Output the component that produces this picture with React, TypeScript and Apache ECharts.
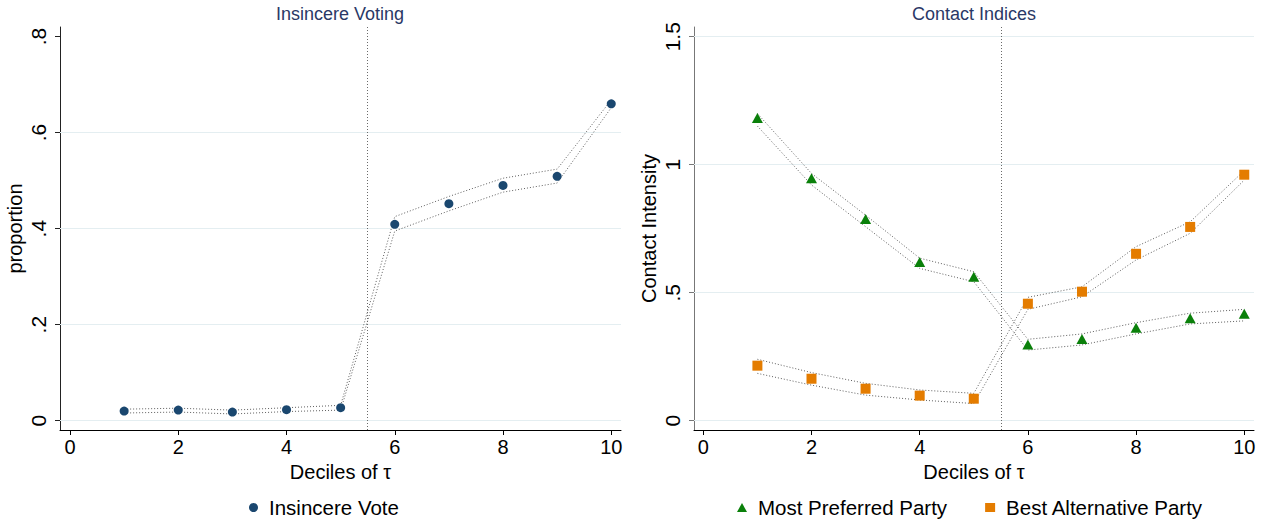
import React, { useEffect, useRef } from "react";
import * as echarts from "echarts";

// Deciles of tau on the horizontal axis
const deciles = [1, 2, 3, 4, 5, 6, 7, 8, 9, 10];

// Insincere voting: share of insincere votes with confidence band
const insincere = [0.02, 0.022, 0.018, 0.023, 0.027, 0.409, 0.452, 0.49, 0.509, 0.66];
const insincereHi = [0.024, 0.026, 0.022, 0.027, 0.032, 0.425, 0.467, 0.505, 0.524, 0.668];
const insincereLo = [0.016, 0.018, 0.014, 0.019, 0.022, 0.395, 0.437, 0.476, 0.495, 0.652];

// Contact indices: most preferred party and best alternative party
const preferred = [1.183, 0.947, 0.788, 0.62, 0.5625, 0.298, 0.319, 0.363, 0.4, 0.418];
const preferredHi = [1.2, 0.966, 0.803, 0.635, 0.582, 0.318, 0.339, 0.383, 0.42, 0.435];
const preferredLo = [1.151, 0.921, 0.758, 0.595, 0.543, 0.276, 0.296, 0.339, 0.378, 0.39];

const alternative = [0.215, 0.164, 0.125, 0.098, 0.086, 0.457, 0.504, 0.652, 0.757, 0.961];
const alternativeHi = [0.24, 0.188, 0.146, 0.12, 0.107, 0.482, 0.523, 0.68, 0.777, 0.977];
const alternativeLo = [0.185, 0.139, 0.1, 0.081, 0.067, 0.435, 0.484, 0.628, 0.732, 0.94];

// Tick labels
const xTicks = [0, 2, 4, 6, 8, 10];
const yTicksLeft = [0, 0.2, 0.4, 0.6, 0.8];
const yGridLeft = [0, 0.2, 0.4, 0.6];
const yTicksRight = [0, 0.5, 1, 1.5];
const yGridRight = [0, 0.5, 1, 1.5];

const cutoff = 5.5;

const FONT = "'Liberation Sans', Arial, Helvetica, sans-serif";
const BAND_COLOR = "#5e5e5e";
const GRID_COLOR = "#e4eef1";

const pairs = (vals: number[]) => deciles.map((d, i) => [d, vals[i]]);

const fmtTick = (v: number) => (v === 0 ? "0" : String(v).replace(/^0\./, "."));

function band(vals: number[], axis: number, extra: any = {}) {
  return {
    type: "line",
    xAxisIndex: axis,
    yAxisIndex: axis,
    data: pairs(vals),
    symbol: "none",
    silent: true,
    z: 2,
    lineStyle: { color: BAND_COLOR, width: 1, type: [1, 2] },
    ...extra,
  };
}

function gridLines(values: number[]) {
  return {
    silent: true,
    symbol: ["none", "none"],
    label: { show: false },
    z: 1,
    lineStyle: { color: GRID_COLOR, width: 1, type: "solid" },
    data: values.map((v) => ({ yAxis: v })),
  };
}

const cutLine = {
  silent: true,
  symbol: ["none", "none"],
  label: { show: false },
  z: 1,
  lineStyle: { color: "#6a6a6a", width: 1, type: [1, 2] },
  data: [{ xAxis: cutoff }],
};

function xAxisOpt(idx: number, min: number, max: number) {
  return {
    type: "value",
    gridIndex: idx,
    min,
    max,
    name: "Deciles of \u03c4",
    nameLocation: "middle",
    nameGap: 28,
    nameTextStyle: { fontSize: 20, color: "#000", fontFamily: FONT },
    axisLine: { onZero: false, lineStyle: { color: "#000", width: 1 } },
    axisTick: { customValues: xTicks, length: 5, lineStyle: { color: "#000" } },
    axisLabel: {
      customValues: xTicks,
      fontSize: 20,
      color: "#000",
      fontFamily: FONT,
      margin: 7,
    },
    splitLine: { show: false },
  };
}

function yAxisOpt(idx: number, min: number, max: number, ticks: number[], name: string, axisColor: string) {
  return {
    type: "value",
    gridIndex: idx,
    min,
    max,
    name,
    nameLocation: "middle",
    nameGap: 35,
    nameTextStyle: { fontSize: 20, color: "#000", fontFamily: FONT },
    axisLine: { show: true, onZero: false, lineStyle: { color: axisColor, width: 1 } },
    axisTick: { show: true, customValues: ticks, length: 5, lineStyle: { color: axisColor } },
    axisLabel: {
      customValues: ticks,
      rotate: 90,
      fontSize: 21,
      color: "#000",
      fontFamily: FONT,
      margin: 11,
      formatter: fmtTick,
    },
    splitLine: { show: false },
  };
}

export default function App() {
  const ref = useRef<HTMLDivElement>(null);

  useEffect(() => {
    if (!ref.current) return;
    const chart = echarts.init(ref.current, null, { renderer: "svg" });
    chart.setOption({
      animation: false,
      backgroundColor: "#ffffff",
      textStyle: { fontFamily: FONT },
      title: [
        {
          text: "Insincere Voting",
          left: 335,
          top: 0,
          textAlign: "center",
          textStyle: { fontSize: 18, fontWeight: "normal", color: "#2a3866", fontFamily: FONT },
        },
        {
          text: "Contact Indices",
          left: 969,
          top: 0,
          textAlign: "center",
          textStyle: { fontSize: 18, fontWeight: "normal", color: "#2a3866", fontFamily: FONT },
        },
      ],
      legend: [
        {
          data: ["Insincere Vote"],
          left: 244,
          top: 492,
          itemWidth: 9,
          itemHeight: 9,
          icon: "circle",
          textStyle: { fontSize: 20.5, color: "#000", fontFamily: FONT, padding: [0, 0, 0, 6] },
          selectedMode: false,
        },
        {
          data: ["Most Preferred Party", "Best Alternative Party"],
          left: 732,
          top: 492,
          itemWidth: 10,
          itemHeight: 9,
          itemGap: 38,
          textStyle: { fontSize: 20.5, color: "#000", fontFamily: FONT, padding: [0, 0, 0, 6] },
          selectedMode: false,
        },
      ],
      grid: [
        { left: 60, top: 27, right: 646, bottom: 89, containLabel: false },
        { left: 694, top: 27, right: 13, bottom: 89, containLabel: false },
      ],
      xAxis: [xAxisOpt(0, -0.185, 10.18), xAxisOpt(1, -0.172, 10.18)],
      yAxis: [
        yAxisOpt(0, -0.0194, 0.82, yTicksLeft, "proportion", "#222"),
        yAxisOpt(1, -0.0363, 1.538, yTicksRight, "Contact Intensity", "#777"),
      ],
      series: [
        band(insincereHi, 0, { markLine: gridLines(yGridLeft) }),
        band(insincereLo, 0),
        {
          name: "Insincere Vote",
          type: "scatter",
          xAxisIndex: 0,
          yAxisIndex: 0,
          data: pairs(insincere),
          symbol: "circle",
          symbolSize: 9,
          z: 3,
          itemStyle: { color: "#1a476f", opacity: 1 },
          markLine: cutLine,
        },
        band(preferredHi, 1, { markLine: gridLines(yGridRight) }),
        band(preferredLo, 1),
        band(alternativeHi, 1),
        band(alternativeLo, 1),
        {
          name: "Most Preferred Party",
          type: "scatter",
          xAxisIndex: 1,
          yAxisIndex: 1,
          data: pairs(preferred),
          symbol: "triangle",
          symbolSize: [11, 10],
          z: 3,
          itemStyle: { color: "#0a800a", opacity: 1 },
          markLine: cutLine,
        },
        {
          name: "Best Alternative Party",
          type: "scatter",
          xAxisIndex: 1,
          yAxisIndex: 1,
          data: pairs(alternative),
          symbol: "rect",
          symbolSize: 10,
          z: 3,
          itemStyle: { color: "#e47c00", opacity: 1 },
        },
      ],
    });
    return () => chart.dispose();
  }, []);

  return (
    <div
      ref={ref}
      style={{ position: "fixed", left: 0, top: 0, width: 1267, height: 519, background: "#fff" }}
    />
  );
}
